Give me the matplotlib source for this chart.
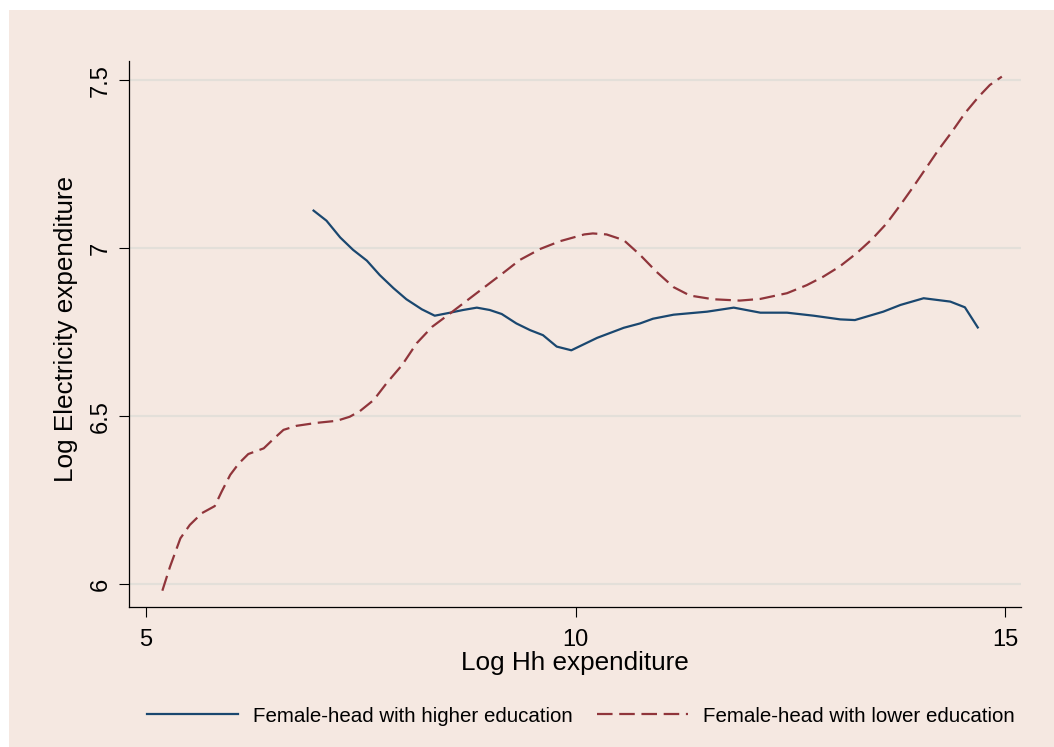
import matplotlib
matplotlib.use("Agg")
import matplotlib.pyplot as plt
import matplotlib.patches as mpatches

plt.rcParams["font.family"] = ["Liberation Sans", "DejaVu Sans"]

# Female-head with higher education
hi_x = [6.95, 7.10, 7.26, 7.41, 7.57, 7.72, 7.88, 8.03, 8.21, 8.36, 8.54, 8.69,
        8.85, 9.00, 9.14, 9.31, 9.47, 9.62, 9.78, 9.95, 10.25, 10.56, 10.75,
        10.90, 11.14, 11.53, 11.84, 12.15, 12.46, 12.77, 13.08, 13.25, 13.58,
        13.78, 14.05, 14.36, 14.53, 14.68]
hi_y = [7.112, 7.082, 7.032, 6.995, 6.963, 6.920, 6.881, 6.848, 6.818, 6.799,
        6.808, 6.816, 6.823, 6.816, 6.804, 6.776, 6.756, 6.741, 6.707, 6.696,
        6.733, 6.763, 6.776, 6.790, 6.802, 6.811, 6.823, 6.808, 6.808, 6.799,
        6.788, 6.786, 6.811, 6.831, 6.851, 6.841, 6.824, 6.764]

# Female-head with lower education
lo_x = [5.19, 5.28, 5.40, 5.51, 5.65, 5.80, 5.88, 5.98, 6.08, 6.19, 6.37, 6.48,
        6.60, 6.75, 6.99, 7.22, 7.37, 7.49, 7.65, 7.80, 7.98, 8.15, 8.33, 8.54,
        8.77, 8.97, 9.16, 9.35, 9.59, 9.82, 10.10, 10.20, 10.36, 10.56, 10.75,
        10.94, 11.14, 11.33, 11.60, 11.91, 12.15, 12.46, 12.69, 12.88, 13.07,
        13.27, 13.45, 13.62, 13.78, 13.93, 14.09, 14.22, 14.38, 14.53, 14.69,
        14.82, 14.96]
lo_y = [5.980, 6.052, 6.136, 6.176, 6.211, 6.232, 6.275, 6.325, 6.359, 6.387,
        6.404, 6.431, 6.459, 6.471, 6.480, 6.486, 6.498, 6.515, 6.548, 6.598,
        6.652, 6.717, 6.766, 6.806, 6.851, 6.890, 6.927, 6.965, 6.998, 7.021,
        7.041, 7.044, 7.041, 7.024, 6.980, 6.930, 6.884, 6.859, 6.848, 6.844,
        6.849, 6.866, 6.890, 6.915, 6.945, 6.985, 7.027, 7.074, 7.129, 7.183,
        7.243, 7.292, 7.347, 7.402, 7.451, 7.486, 7.511]

x_ticks = [5, 10, 15]
y_ticks = [6, 6.5, 7, 7.5]
y_ticklabels = ["6", "6.5", "7", "7.5"]

BG = "#F5E8E1"
GRID = "#E3DFD9"
NAVY = "#1A476F"
MAROON = "#90353B"

fig = plt.figure(figsize=(10.54, 7.47), dpi=100)
fig.patch.set_facecolor("white")
# coloured panel, leaving the thin white strip on the left and top
panel = mpatches.Rectangle((9 / 1054, 0), 1, 1 - 10 / 747,
                           transform=fig.transFigure,
                           facecolor=BG, edgecolor="none", zorder=-10)
fig.patches.append(panel)

ax = fig.add_axes([129 / 1054, 1 - 607 / 747, 892 / 1054, 546 / 747])
ax.set_facecolor(BG)

ax.plot(hi_x, hi_y, color=NAVY, lw=1.6, solid_joinstyle="round",
        label="Female-head with higher education", zorder=3)
ax.plot(lo_x, lo_y, color=MAROON, lw=1.6, ls=(0, (7.0, 3.0)),
        label="Female-head with lower education", zorder=3)

ax.set_xlim(4.802, 15.183)
ax.set_ylim(5.9315, 7.5575)

for s in ["top", "right"]:
    ax.spines[s].set_visible(False)
for s in ["left", "bottom"]:
    ax.spines[s].set_linewidth(0.9)
    ax.spines[s].set_color("black")

ax.set_xticks(x_ticks)
ax.set_yticks(y_ticks)
ax.set_yticklabels(y_ticklabels, rotation=90, va="center")
ax.tick_params(axis="both", direction="out", length=7.2, width=0.8,
               labelsize=17, color="black")
ax.tick_params(axis="x", pad=9)
ax.tick_params(axis="y", pad=5)

ax.yaxis.grid(True, color=GRID, lw=1.6)
ax.set_axisbelow(True)

ax.set_xlabel("Log Hh expenditure", fontsize=18.8)
ax.xaxis.set_label_coords(0.5, -0.081)
ax.set_ylabel("Log Electricity expenditure", fontsize=18.8)
ax.yaxis.set_label_coords(-0.057, 0.509)

leg = ax.legend(loc="center", bbox_to_anchor=(581 / 1054, 31 / 747),
                bbox_transform=fig.transFigure, ncol=2, frameon=False,
                fontsize=14.8, handlelength=4.4, handletextpad=0.75,
                columnspacing=1.2)

fig.savefig("out.png", dpi=100, facecolor=fig.get_facecolor())
